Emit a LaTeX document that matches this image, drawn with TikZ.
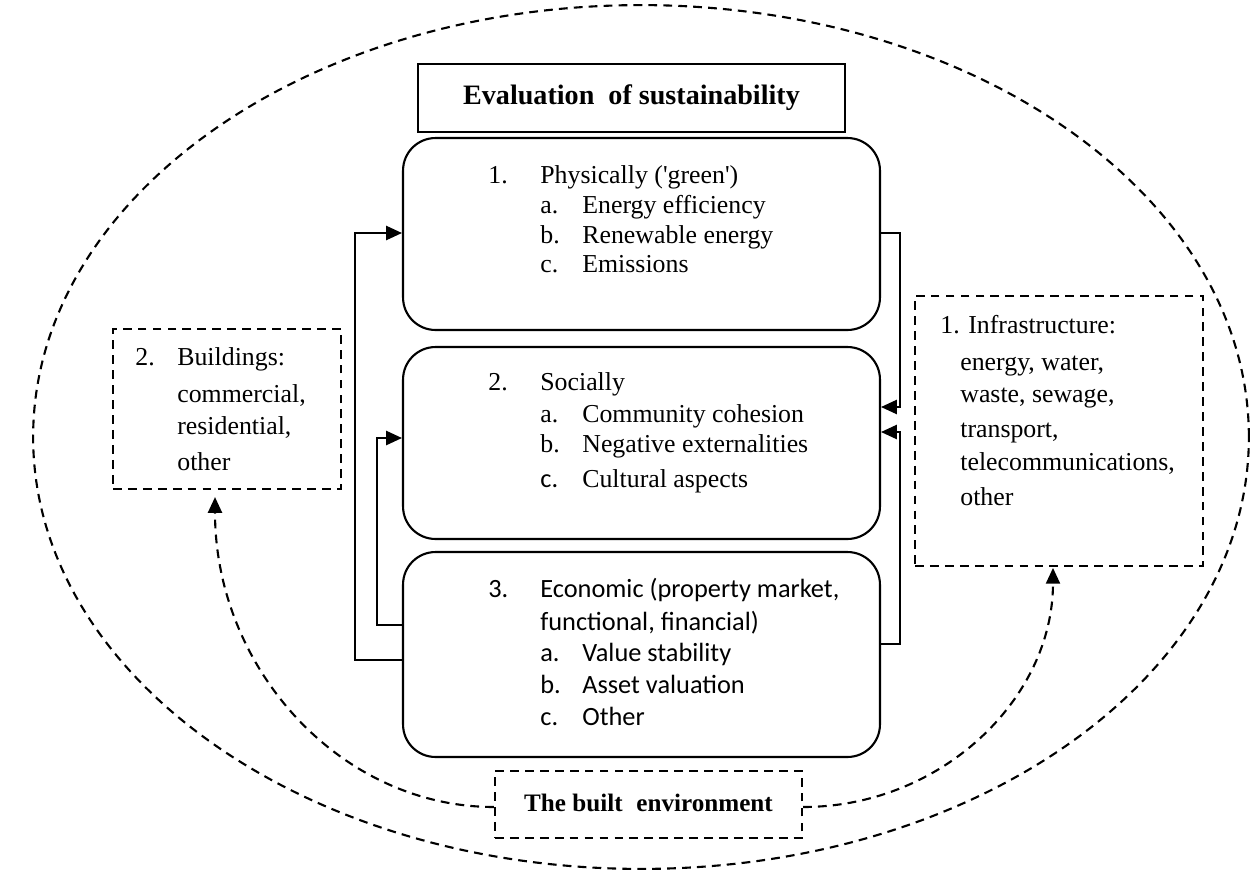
\documentclass[tikz,border=0pt]{standalone}
\usepackage{fontspec}
\setmainfont{Liberation Serif}
\newfontfamily\calfont{Carlito}
\usetikzlibrary{arrows.meta,calc}
\tikzset{
  titlebox/.style={draw, line width=1.4pt, inner sep=0pt, minimum width=8.54cm, minimum height=1.36cm, font=\fontsize{16}{18}\selectfont\bfseries},
  rbox/.style={draw, line width=1.2pt, rounded corners=0.65cm, inner sep=0pt, minimum width=9.54cm},
  dbox/.style={draw, line width=1.2pt, dash pattern=on 5pt off 3.5pt, inner sep=0pt},
  tx/.style={anchor=base west, inner sep=0pt, font=\fontsize{14.7}{17}\selectfont},
  cx/.style={anchor=base west, inner sep=0pt, font=\calfont\fontsize{15}{18}\selectfont},
  conn/.style={line width=1.2pt, -{Triangle[length=9pt,width=8pt]}},
  dconn/.style={line width=1.2pt, dash pattern=on 5pt off 3.5pt, -{Triangle[length=9pt,width=8pt]}}
}
\begin{document}
\begin{tikzpicture}[x=0.02cm,y=-0.02cm]
\useasboundingbox (0,0) rectangle (1259,873);
% outer ellipse
\draw[line width=1.2pt, dash pattern=on 5pt off 3.5pt] (641,437) ellipse [x radius=12.16cm, y radius=8.64cm];

% main boxes
\node[titlebox] (title) at (631.5,98) {Evaluation\hspace{0.5em}of sustainability};
\node[rbox, minimum height=3.84cm] (b1) at (641.5,234) {};
\node[rbox, minimum height=3.84cm] (b2) at (641.5,443) {};
\node[rbox, minimum height=4.1cm] (b3) at (641.5,654.5) {};

\node[dbox, minimum width=4.56cm, minimum height=3.2cm] (bld) at (227,409) {};
\node[dbox, minimum width=5.76cm, minimum height=5.4cm] (inf) at (1059,431) {};
\node[dbox, minimum width=6.14cm, minimum height=1.34cm, font=\fontsize{14.3}{17}\selectfont\bfseries] (be) at (648.5,804.5) {\raisebox{2pt}{The built\hspace{0.55em}environment}};

% box 1 text
\node[tx] (n1) at (488,183) {1.};
\node[tx] (h1) at (540,183) {Physically (\textquotesingle green\textquotesingle)};
\node[tx] (l1a) at (540,213) {a.};
\node[tx] (t1a) at (582,213) {Energy efficiency};
\node[tx] (l1b) at (540,243) {b.};
\node[tx] (t1b) at (582,243) {Renewable energy};
\node[tx] (l1c) at (540,272) {c.};
\node[tx] (t1c) at (582,272) {Emissions};

% box 2 text
\node[tx] (n2) at (488,390) {2.};
\node[tx] (h2) at (540,390) {Socially};
\node[tx] (l2a) at (540,422) {a.};
\node[tx] (t2a) at (582,422) {Community cohesion};
\node[tx] (l2b) at (540,452) {b.};
\node[tx] (t2b) at (582,452) {Negative externalities};
\node[cx] (l2c) at (540,487) {c.};
\node[tx] (t2c) at (582,487) {Cultural aspects};

% box 3 text
\node[cx] (n3) at (488,597) {3.};
\node[cx] (h3) at (540,597) {Economic (property market,};
\node[cx] (h3b) at (540,630) {functional, financial)};
\node[cx] (l3a) at (540,661) {a.};
\node[cx] (t3a) at (582,661) {Value stability};
\node[cx] (l3b) at (540,693) {b.};
\node[cx] (t3b) at (582,693) {Asset valuation};
\node[cx] (l3c) at (540,725) {c.};
\node[cx] (t3c) at (582,725) {Other};

% buildings text
\node[tx] (nb) at (135,365) {2.};
\node[tx] (tb1) at (177,365) {Buildings:};
\node[tx] (tb2) at (177,402) {commercial,};
\node[tx] (tb3) at (177,434) {residential,};
\node[tx] (tb4) at (177,470) {other};

% infrastructure text
\node[tx] (ti1) at (940,333) {1. Infrastructure:};
\node[tx] (ti2) at (960,370) {energy, water,};
\node[tx] (ti3) at (960,402) {waste, sewage,};
\node[tx] (ti4) at (960,437) {transport,};
\node[tx] (ti5) at (960,470) {telecommunications,};
\node[tx] (ti6) at (960,505) {other};

% left connectors
\draw[conn] (b3.west |- 0,660) -- (355,660) -- (355,233) -- (b1.west |- 0,233);
\draw[conn] (b3.west |- 0,625) -- (377,625) -- (377,438) -- (b2.west |- 0,438);
% right connectors
\draw[conn] (b1.east |- 0,233) -- (900,233) -- (900,407) -- (b2.east |- 0,407);
\draw[conn] (b3.east |- 0,644) -- (900,644) -- (900,432) -- (b2.east |- 0,432);

% dashed curved connectors
\draw[dconn, shorten >=4pt] (be.west |- 0,807) .. controls (340,807) and (215,668) .. (bld.south -| 215,0);
\draw[dconn, shorten >=0.5pt] (be.east |- 0,807) .. controls (941,807) and (1053,699) .. (inf.south -| 1053,0);
\end{tikzpicture}
\end{document}
